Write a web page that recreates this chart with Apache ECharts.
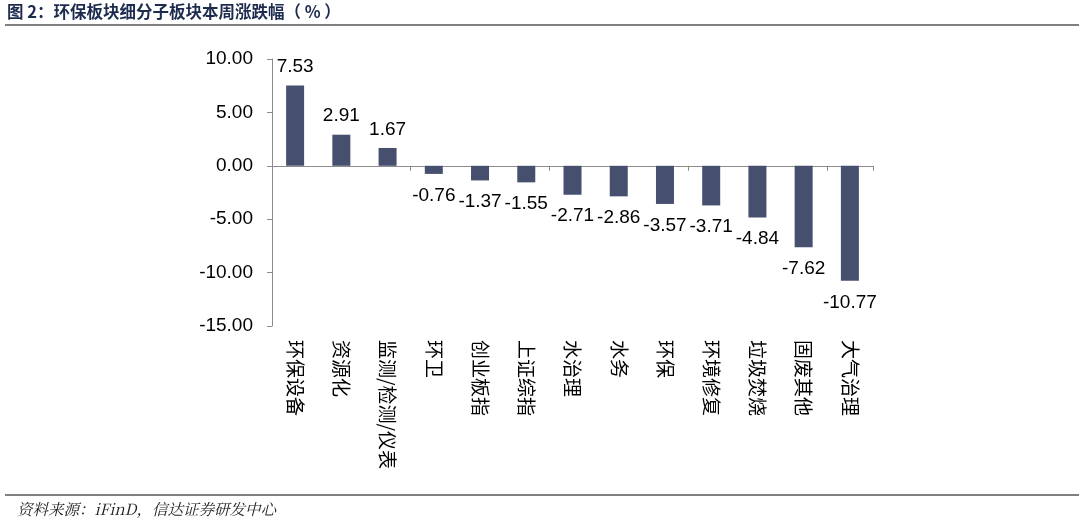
<!DOCTYPE html>
<html>
<head>
<meta charset="utf-8">
<script src="https://cdn.jsdelivr.net/npm/echarts@6/dist/echarts.min.js"></script>
<style>
  html, body { margin: 0; padding: 0; background: #fff; }
  #chart { width: 1079px; height: 524px; }
</style>
</head>
<body>
<div id="chart"></div>
<script>
const categories = ['环保设备', '资源化', '监测/检测/仪表', '环卫', '创业板指', '上证综指', '水治理', '水务', '环保', '环境修复', '垃圾焚烧', '固废其他', '大气治理'];
const changes = [7.53, 2.91, 1.67, -0.76, -1.37, -1.55, -2.71, -2.86, -3.57, -3.71, -4.84, -7.62, -10.77];
const yTicks = { min: -15, max: 10, interval: 5 };

const numFont = "'Liberation Sans', Arial, 'Noto Sans CJK SC', sans-serif";
const cjkFont = "'Noto Sans CJK SC', sans-serif";
const axisGray = '#8c8c8c';
const barColor = '#464f6e';

const chart = echarts.init(document.getElementById('chart'));

chart.setOption({
  backgroundColor: '#fff',
  animation: false,
  grid: { left: 272, right: 206, top: 59, bottom: 198 },
  graphic: [
    {
      type: 'text',
      left: 7,
      top: 3,
      style: {
        text: '图 2：环保板块细分子板块本周涨跌幅（ % ）',
        font: "bold 16.5px 'Noto Sans CJK SC', sans-serif",
        fill: '#1d2b4f',
      },
    },
    {
      type: 'rect',
      shape: { x: 5, y: 24, width: 1074, height: 2 },
      style: { fill: '#808080' },
    },
    {
      type: 'rect',
      shape: { x: 5, y: 494, width: 1074, height: 2 },
      style: { fill: '#808080' },
    },
    {
      type: 'text',
      left: 17,
      top: 501,
      style: {
        text: '资料来源：iFinD，信达证券研发中心',
        font: "italic 15.5px 'Noto Serif CJK SC', 'Noto Sans CJK SC', serif",
        fill: '#222',
      },
    },
  ],
  xAxis: [
    {
      type: 'category',
      data: categories,
      position: 'bottom',
      axisLine: { onZero: true, lineStyle: { color: axisGray, width: 1 } },
      axisTick: { show: true, length: 5, lineStyle: { color: axisGray } },
      axisLabel: { show: false },
      splitLine: { show: false },
    },
    {
      type: 'category',
      data: categories,
      position: 'bottom',
      axisLine: { show: false, onZero: false },
      axisTick: { show: false },
      axisLabel: {
        show: true,
        interval: 0,
        rotate: -90,
        margin: 14,
        fontSize: 19,
        fontFamily: cjkFont,
        color: '#000',
      },
      splitLine: { show: false },
    },
  ],
  yAxis: {
    type: 'value',
    min: yTicks.min,
    max: yTicks.max,
    interval: yTicks.interval,
    axisLine: { show: true, lineStyle: { color: axisGray, width: 1 } },
    axisTick: { show: true, length: 5, lineStyle: { color: axisGray } },
    splitLine: { show: false },
    axisLabel: {
      margin: 19,
      fontSize: 19,
      fontFamily: numFont,
      color: '#000',
      formatter: (v) => v.toFixed(2),
    },
  },
  series: [
    {
      type: 'bar',
      xAxisIndex: 0,
      barWidth: 18,
      itemStyle: { color: barColor },
      data: changes.map((v) => ({
        value: v,
        label: {
          show: true,
          position: v >= 0 ? 'top' : 'bottom',
          distance: v >= 0 ? 9 : 12,
          fontSize: 19,
          fontFamily: numFont,
          color: '#000',
          formatter: (p) => p.value.toFixed(2),
        },
      })),
    },
  ],
});
</script>
</body>
</html>
